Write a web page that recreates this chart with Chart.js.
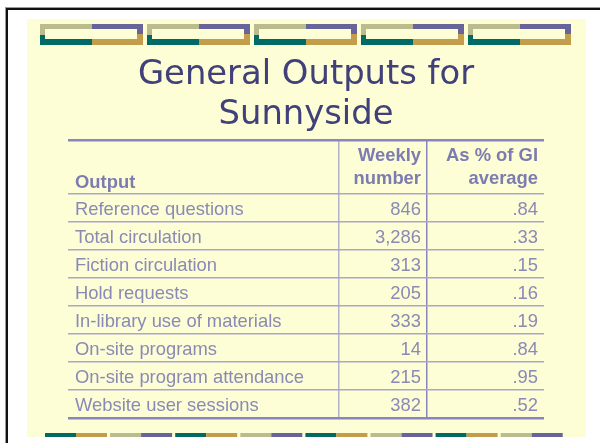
<!DOCTYPE html>
<html>
<head>
<meta charset="utf-8">
<script src="https://cdn.jsdelivr.net/npm/chart.js@4.4.1/dist/chart.umd.min.js"></script>
<style>
  html, body { margin: 0; padding: 0; background: #fff; }
  #wrap { width: 600px; height: 443px; }
</style>
</head>
<body>
<div id="wrap"><canvas id="c" width="600" height="443"></canvas></div>
<script>
// slide text and table values
const titleLines = ['General Outputs for', 'Sunnyside']
const headers = [['Output'], ['Weekly', 'number'], ['As % of GI', 'average']]
const outputs = [
  'Reference questions',
  'Total circulation',
  'Fiction circulation',
  'Hold requests',
  'In-library use of materials',
  'On-site programs',
  'On-site program attendance',
  'Website user sessions',
]
const weeklyNumber = [846, 3286, 313, 205, 333, 14, 215, 382]
const pctOfAverage = [0.84, 0.33, 0.15, 0.16, 0.19, 0.84, 0.95, 0.52]

// ---- layout (x in % of table width, y in row units, header is ~1.93 rows) ----
const HEADER_ROWS = 54 / 28
const dividers = [56.93, 75.42]
const bodyFont = '18.4px "Liberation Sans", Arial, sans-serif'
const headFont = 'bold 18.4px "Liberation Sans", Arial, sans-serif'
const textColor = '#8a8ab6'
const headColor = '#7d7cb0'
const edgeLine = '#8886bb'
const rowLine = '#a9a8c9'

const khaki = '#bbbc8e', purple = '#66649b', teal = '#006a65', gold = '#c29d4b'

const fmtNumber = v => v.toLocaleString('en-US')
const fmtPct = v => v.toFixed(2).replace(/^0/, '')

// one scatter dataset per column, each cell a point at its anchor
const column = (anchor, align, dx, texts) => ({
  data: texts.map((_, i) => ({ x: anchor, y: i + 0.5 })),
  texts, align, dx,
  pointRadius: 0,
})

const datasets = [
  column(0, 'left', 7, outputs),
  column(dividers[1], 'right', -6, weeklyNumber.map(fmtNumber)),
  column(100, 'right', -6, pctOfAverage.map(fmtPct)),
]

// slide furniture: frame, yellow panel, box border on top, dash strip below
const slideDecor = {
  id: 'slideDecor',
  beforeDraw(chart) {
    const { ctx, width, height } = chart
    ctx.save()
    ctx.fillStyle = '#fff'
    ctx.fillRect(0, 0, width, height)
    ctx.fillStyle = '#9a9a9a'
    ctx.fillRect(5, 7, width - 5, 1)
    ctx.fillRect(5, 7, 1, height - 7)
    ctx.fillStyle = '#111'
    ctx.fillRect(6, 8, width - 6, 2)
    ctx.fillRect(6, 8, 2, height - 8)
    ctx.fillStyle = '#fdfdd6'
    ctx.fillRect(27, 19, 559, 418)

    for (let k = 0; k < 5; k++) {
      const x = 40 + k * 107
      const r = (c, rx, ry, w, h) => { ctx.fillStyle = c; ctx.fillRect(x + rx, ry, w, h) }
      r(khaki, 0, 24, 52, 5)
      r(purple, 52, 24, 51, 5)
      r(khaki, 0, 24, 5, 11)
      r(teal, 0, 35, 5, 10)
      r(teal, 0, 39, 52, 6)
      r(gold, 52, 39, 51, 6)
      r(purple, 97, 24, 6, 10)
      r(gold, 97, 34, 6, 11)
    }

    for (let g = 0; g < 8; g++) {
      const x = 45 + g * 65.1
      const [a, b] = g % 2 ? [khaki, purple] : [teal, gold]
      ctx.fillStyle = a
      ctx.fillRect(x, 433, 31, 4)
      ctx.fillStyle = b
      ctx.fillRect(x + 31, 433, 31, 4)
    }
    ctx.restore()
  },
}

const cellText = {
  id: 'cellText',
  afterDatasetsDraw(chart) {
    const { ctx, scales: { y } } = chart
    const headBottom = y.getPixelForValue(0)
    ctx.save()
    chart.data.datasets.forEach((ds, i) => {
      const meta = chart.getDatasetMeta(i)
      ctx.textAlign = ds.align
      ctx.textBaseline = 'alphabetic'
      ctx.font = bodyFont
      ctx.fillStyle = textColor
      meta.data.forEach((pt, j) => ctx.fillText(ds.texts[j], pt.x + ds.dx, pt.y + 7))

      // header cell, bottom aligned over the same anchor
      const lines = headers[i]
      const x = chart.scales.x.getPixelForValue(ds.data[0].x) + ds.dx
      ctx.font = headFont
      ctx.fillStyle = headColor
      const last = headBottom - (lines.length === 1 ? 6 : 10)
      lines.forEach((line, k) => ctx.fillText(line, x, last - (lines.length - 1 - k) * 23.3))
    })
    ctx.restore()
  },
}

new Chart(document.getElementById('c'), {
  type: 'scatter',
  data: { datasets },
  plugins: [slideDecor, cellText],
  options: {
    responsive: false,
    animation: false,
    events: [],
    layout: { padding: { left: 68, right: 56, top: 55, bottom: 25 } },
    plugins: {
      legend: { display: false },
      tooltip: { enabled: false },
      title: {
        display: true,
        text: titleLines,
        color: '#40407a',
        font: { family: '"DejaVu Sans", Verdana, sans-serif', size: 33.8, weight: 'normal', lineHeight: 40 / 33.8 },
        padding: { top: 0, bottom: 5 },
      },
    },
    scales: {
      x: {
        type: 'linear', min: 0, max: 100,
        afterBuildTicks: s => { s.ticks = dividers.map(value => ({ value })) },
        ticks: { display: false },
        border: { display: false },
        grid: {
          drawTicks: false,
          color: c => c.index === 0 ? '#b3b2c6' : edgeLine,
          lineWidth: 1.5,
        },
      },
      y: {
        type: 'linear', reverse: true, min: -HEADER_ROWS, max: outputs.length,
        afterBuildTicks: s => {
          s.ticks = [-HEADER_ROWS, ...outputs.map((_, i) => i), outputs.length].map(value => ({ value }))
        },
        ticks: { display: false },
        border: { display: false },
        grid: {
          drawTicks: false,
          color: c => (c.tick.value === -HEADER_ROWS || c.tick.value === outputs.length) ? edgeLine : rowLine,
          lineWidth: c => (c.tick.value === -HEADER_ROWS || c.tick.value === outputs.length) ? 2.5 : 1.5,
        },
      },
    },
  },
})
</script>
</body>
</html>
